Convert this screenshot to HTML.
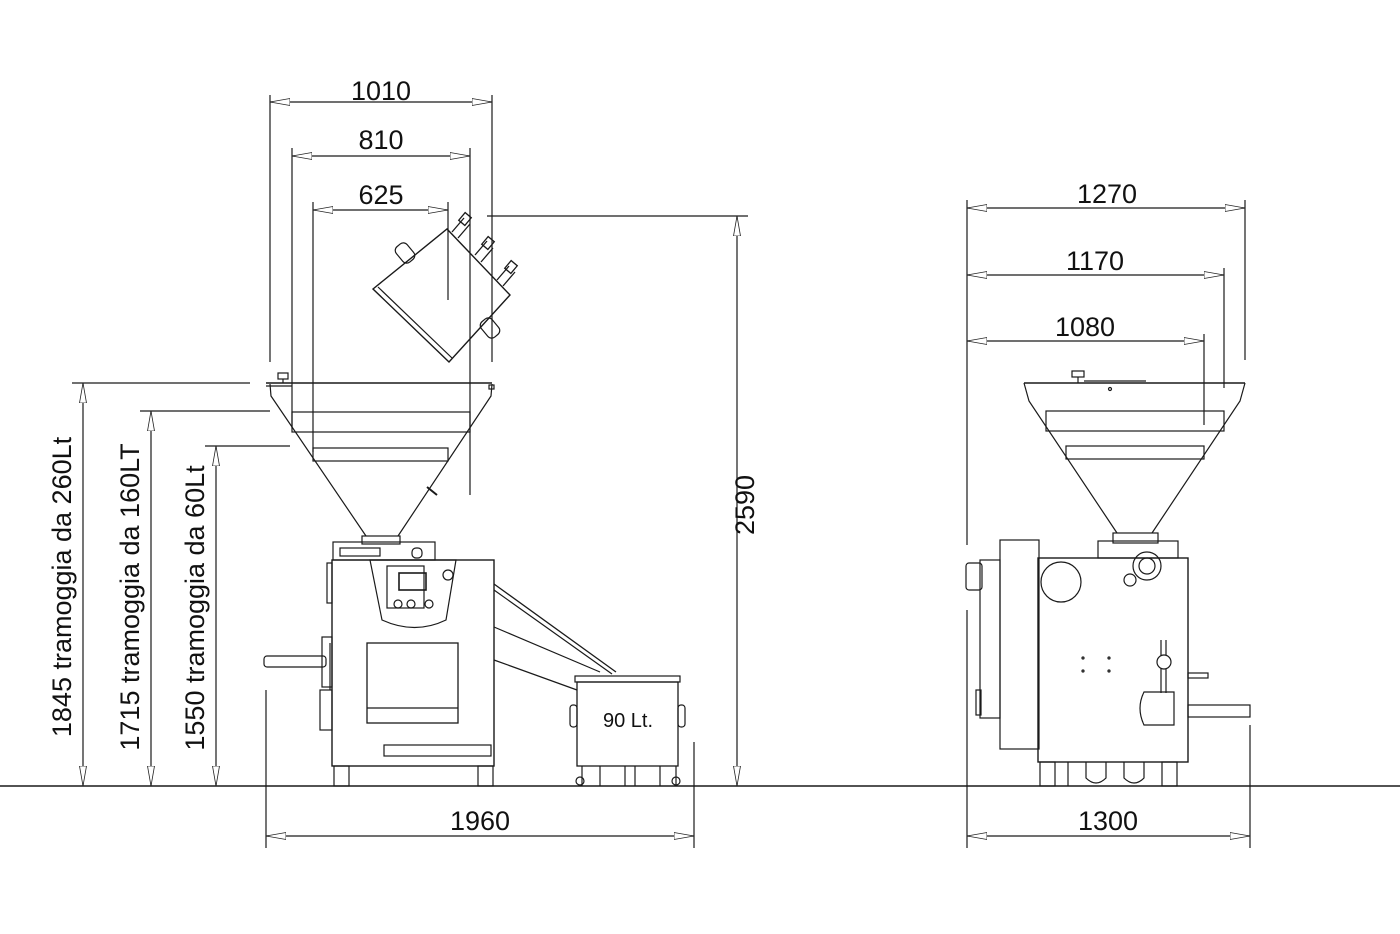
<!DOCTYPE html>
<html><head><meta charset="utf-8"><style>
html,body{margin:0;padding:0;background:#fff;}
svg{display:block;}
text{font-family:"Liberation Sans",sans-serif;fill:#111;}
</style></head><body>
<svg width="1400" height="934" viewBox="0 0 1400 934" xmlns="http://www.w3.org/2000/svg">
<defs>
<marker id="a" viewBox="0 0 20 8" refX="20" refY="4" markerWidth="20" markerHeight="8" markerUnits="userSpaceOnUse" orient="auto-start-reverse">
<polygon points="20,4 0,0.5 0,7.5" fill="#fff" stroke="#222" stroke-width="0.8"/>
</marker>
</defs>
<g stroke="#1a1a1a" stroke-width="1.2" fill="none">
<line x1="0" y1="786" x2="1400" y2="786" stroke-width="1.5"/>

<!-- LEFT DIMENSIONS -->
<line x1="270" y1="95" x2="270" y2="362"/>
<line x1="492" y1="95" x2="492" y2="362"/>
<line x1="270" y1="102" x2="492" y2="102" marker-start="url(#a)" marker-end="url(#a)"/>
<line x1="292" y1="148" x2="292" y2="428"/>
<line x1="470" y1="148" x2="470" y2="495"/>
<line x1="292" y1="156" x2="470" y2="156" marker-start="url(#a)" marker-end="url(#a)"/>
<line x1="313" y1="202" x2="313" y2="452"/>
<line x1="448" y1="202" x2="448" y2="300"/>
<line x1="313" y1="210" x2="448" y2="210" marker-start="url(#a)" marker-end="url(#a)"/>
<line x1="487" y1="216" x2="748" y2="216"/>
<line x1="737" y1="216" x2="737" y2="786" marker-start="url(#a)" marker-end="url(#a)"/>
<line x1="266" y1="690" x2="266" y2="848"/>
<line x1="694" y1="742" x2="694" y2="848"/>
<line x1="266" y1="836" x2="694" y2="836" marker-start="url(#a)" marker-end="url(#a)"/>
<line x1="72" y1="383" x2="250" y2="383"/>
<line x1="83" y1="383" x2="83" y2="786" marker-start="url(#a)" marker-end="url(#a)"/>
<line x1="140" y1="411" x2="270" y2="411"/>
<line x1="151" y1="411" x2="151" y2="786" marker-start="url(#a)" marker-end="url(#a)"/>
<line x1="205" y1="446" x2="290" y2="446"/>
<line x1="216" y1="446" x2="216" y2="786" marker-start="url(#a)" marker-end="url(#a)"/>

<!-- LEFT MACHINE -->
<polygon points="373,289 447,229 510,295 449,362" stroke-width="1.4"/>
<line x1="378" y1="287" x2="452" y2="358"/>
<rect x="398" y="243" width="14" height="20" rx="5" transform="rotate(-40 405 253)"/>
<rect x="483" y="318" width="14" height="20" rx="5" transform="rotate(-40 490 328)"/>
<g stroke-width="1.3">
<line x1="452" y1="232" x2="464" y2="218"/><line x1="458" y1="238" x2="470" y2="224"/><rect x="461" y="214" width="8" height="10" transform="rotate(40 465 219)"/>
<line x1="475" y1="255" x2="487" y2="241"/><line x1="481" y1="262" x2="493" y2="248"/><rect x="484" y="238" width="8" height="10" transform="rotate(40 488 243)"/>
<line x1="497" y1="280" x2="509" y2="266"/><line x1="503" y1="286" x2="515" y2="272"/><rect x="507" y="262" width="8" height="10" transform="rotate(40 511 267)"/>
</g>
<line x1="266" y1="383" x2="492" y2="383" stroke-width="1.4"/>
<line x1="266" y1="386" x2="292" y2="386"/>
<rect x="278" y="373" width="10" height="6"/>
<line x1="283" y1="379" x2="283" y2="383"/>
<rect x="489" y="385" width="5" height="4"/>
<polyline points="270,384 271,396 366,536"/>
<polyline points="492,384 491,396 398,536"/>
<rect x="292" y="412" width="178" height="20"/>
<rect x="313" y="448" width="135" height="13"/>
<line x1="427" y1="487" x2="437" y2="495" stroke-width="2"/>
<rect x="362" y="536" width="38" height="8"/>
<rect x="333" y="542" width="102" height="18"/>
<rect x="340" y="548" width="40" height="8"/>
<rect x="412" y="548" width="10" height="10" rx="4"/>
<rect x="332" y="560" width="162" height="206" stroke-width="1.4"/>
<rect x="327" y="563" width="5" height="40"/>
<rect x="322" y="637" width="10" height="50"/>
<rect x="320" y="690" width="12" height="40"/>
<rect x="334" y="766" width="15" height="20"/>
<rect x="478" y="766" width="15" height="20"/>
<rect x="384" y="745" width="107" height="11"/>
<path d="M370,560 L456,560 L446,620 Q415,635 382,620 Z"/>
<rect x="387" y="566" width="37" height="42"/>
<rect x="399" y="573" width="27" height="17" stroke-width="1.6"/>
<circle cx="398" cy="604" r="4"/><circle cx="411" cy="604" r="4"/><circle cx="429" cy="604" r="4"/>
<circle cx="448" cy="575" r="5"/>
<rect x="367" y="643" width="91" height="80" stroke-width="1.3"/>
<line x1="367" y1="708" x2="458" y2="708"/>
<rect x="264" y="656" width="62" height="11" rx="3"/>
<line x1="330" y1="643" x2="330" y2="690"/>
<line x1="494" y1="584" x2="616" y2="672" stroke-width="1.3"/>
<line x1="494" y1="590" x2="612" y2="674"/>
<line x1="494" y1="627" x2="600" y2="672"/>
<line x1="494" y1="660" x2="577" y2="690"/>
<rect x="575" y="676" width="105" height="6"/>
<rect x="577" y="682" width="101" height="84" stroke-width="1.3"/>
<rect x="570" y="705" width="7" height="22" rx="3"/>
<rect x="678" y="705" width="7" height="22" rx="3"/>
<line x1="582" y1="766" x2="582" y2="786"/><line x1="600" y1="766" x2="600" y2="786"/>
<line x1="625" y1="766" x2="625" y2="786"/><line x1="635" y1="766" x2="635" y2="786"/>
<line x1="660" y1="766" x2="660" y2="786"/><line x1="676" y1="766" x2="676" y2="786"/>
<circle cx="580" cy="781" r="4"/><circle cx="676" cy="781" r="4"/>

<!-- RIGHT DIMENSIONS -->
<line x1="967" y1="200" x2="967" y2="545"/>
<line x1="1245" y1="200" x2="1245" y2="360"/>
<line x1="967" y1="208" x2="1245" y2="208" marker-start="url(#a)" marker-end="url(#a)"/>
<line x1="1224" y1="268" x2="1224" y2="388"/>
<line x1="967" y1="275" x2="1224" y2="275" marker-start="url(#a)" marker-end="url(#a)"/>
<line x1="1204" y1="334" x2="1204" y2="425"/>
<line x1="967" y1="341" x2="1204" y2="341" marker-start="url(#a)" marker-end="url(#a)"/>
<line x1="967" y1="610" x2="967" y2="848"/>
<line x1="1250" y1="725" x2="1250" y2="848"/>
<line x1="967" y1="836" x2="1250" y2="836" marker-start="url(#a)" marker-end="url(#a)"/>

<!-- RIGHT MACHINE -->
<line x1="1024" y1="383" x2="1245" y2="383" stroke-width="1.4"/>
<rect x="1072" y="371" width="12" height="6"/><line x1="1078" y1="377" x2="1078" y2="383"/>
<line x1="1084" y1="381" x2="1146" y2="381"/>
<circle cx="1110" cy="389" r="1.5"/>
<polyline points="1024,383 1029,401 1117,533"/>
<polyline points="1245,383 1240,401 1152,533"/>
<rect x="1046" y="411" width="178" height="20"/>
<rect x="1066" y="446" width="138" height="13"/>
<rect x="1113" y="533" width="45" height="10"/>
<rect x="1098" y="541" width="80" height="17"/>
<rect x="1038" y="558" width="150" height="204" stroke-width="1.4"/>
<rect x="1000" y="540" width="39" height="209"/>
<rect x="980" y="560" width="20" height="158"/>
<rect x="966" y="563" width="16" height="27" rx="3"/>
<rect x="976" y="690" width="5" height="25"/>
<circle cx="1061" cy="582" r="20"/>
<circle cx="1147" cy="566" r="14"/><circle cx="1147" cy="566" r="8"/>
<circle cx="1130" cy="580" r="6"/>
<line x1="1161" y1="640" x2="1161" y2="693"/><line x1="1166" y1="640" x2="1166" y2="693"/>
<circle cx="1164" cy="662" r="7" fill="#fff"/>
<path d="M1144,692 L1174,692 L1174,725 L1144,725 Q1136,708 1144,692 Z"/>
<rect x="1188" y="705" width="62" height="12"/>
<rect x="1188" y="673" width="20" height="5"/>
<circle cx="1083" cy="658" r="1"/><circle cx="1109" cy="658" r="1"/>
<circle cx="1083" cy="671" r="1"/><circle cx="1109" cy="671" r="1"/>
<rect x="1040" y="762" width="15" height="24"/>
<rect x="1162" y="762" width="15" height="24"/>
<path d="M1086,762 L1086,778 Q1096,788 1106,778 L1106,762"/>
<path d="M1124,762 L1124,778 Q1134,788 1144,778 L1144,762"/>
<line x1="1068" y1="762" x2="1068" y2="786"/>
</g>

<g font-size="27" text-anchor="middle">
<text x="381" y="100">1010</text>
<text x="381" y="149">810</text>
<text x="381" y="204">625</text>
<text x="480" y="830">1960</text>
<text x="1107" y="203">1270</text>
<text x="1095" y="270">1170</text>
<text x="1085" y="336">1080</text>
<text x="1108" y="830">1300</text>
<text transform="translate(754,505) rotate(-90)">2590</text>
<text transform="translate(71,587) rotate(-90)">1845 tramoggia da 260Lt</text>
<text transform="translate(139,597) rotate(-90)">1715 tramoggia da 160LT</text>
<text transform="translate(204,608) rotate(-90)">1550 tramoggia da 60Lt</text>
</g>
<text x="628" y="727" font-size="20" text-anchor="middle">90 Lt.</text>
</svg>
</body></html>
